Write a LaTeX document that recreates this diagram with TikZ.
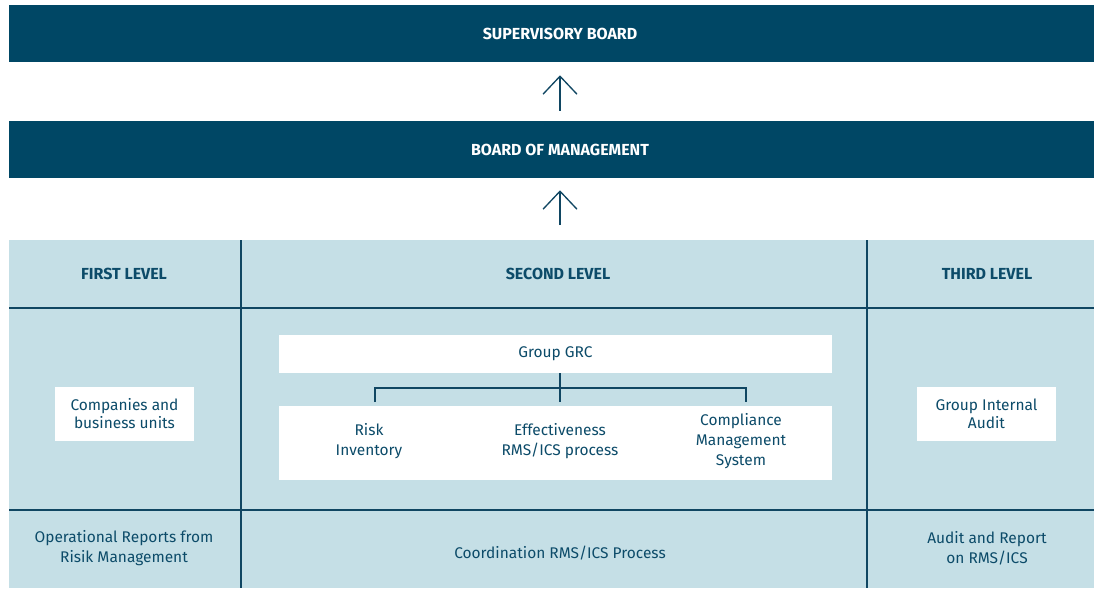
\documentclass[tikz,border=0pt]{standalone}
\usepackage{fontspec}
\setmainfont{Fira Sans}
\usepackage{xcolor}
\usetikzlibrary{positioning,
                arrows.meta,
                calc}

\begin{document}
\begin{tikzpicture}
[x=0.75pt,y=-0.75pt,line cap=butt,
board/.style={text=white,font=\bfseries\fontsize{12}{14}\selectfont,inner sep=0pt,minimum height=42.75pt},
level/.style={text=textblue,font=\bfseries\fontsize{12}{14}\selectfont},
box/.style={fill=white,text=textblue,align=center,inner sep=0pt,font=\fontsize{11.6}{13.5}\selectfont},
cell/.style={text=textblue,align=center,font=\fontsize{11.6}{15}\selectfont},
rule/.style={draw=lineblue,line width=1.1pt},
link/.style={draw=lineblue,line width=1pt},
up arrow/.style={draw=lineblue,line width=1pt,-{Straight Barb[length=13.5pt,width=25.5pt]}}]
% Colors
\definecolor{boardblue}{RGB}{0,71,101}
\definecolor{cellblue}{RGB}{197,223,230}
\definecolor{textblue}{RGB}{12,75,105}
\definecolor{lineblue}{RGB}{16,70,98}
\useasboundingbox (0,0) rectangle (1094,588);
% The boards
\fill[boardblue] (9,5) rectangle (1094,62);
\node[board] (sup) at (560,33.5) {SUPERVISORY BOARD};
\fill[boardblue] (9,121) rectangle (1094,178);
\node[board] (bom) at (560,149.5) {BOARD OF MANAGEMENT};
% The table
\fill[cellblue] (9,240) rectangle (1094,588);
\coordinate (tbltop) at (560,240);
\draw[rule] (241,240) -- (241,588);
\draw[rule] (867,240) -- (867,588);
\draw[rule] (9,308) -- (1094,308);
\draw[rule] (9,510) -- (1094,510);
\node[level] (first) at (124,274) {FIRST LEVEL};
\node[level] (second) at (558,274) {SECOND LEVEL};
\node[level] (third) at (987,274) {THIRD LEVEL};
% Reporting lines
\draw[up arrow,shorten <=7.5pt,shorten >=9.75pt] (bom.north) -- (sup.south);
\draw[up arrow,shorten <=11.25pt,shorten >=9pt] (tbltop) -- (bom.south);
% Middle row
\node[box,minimum width=104.25pt,minimum height=40.5pt] (units) at (124.5,414) {Companies and\\business units};
\node[box,minimum width=104.25pt,minimum height=40.5pt] (audit) at (986.5,414) {Group Internal\\Audit};
\node[box,minimum width=414.75pt,minimum height=28.5pt] (grc) at (555.5,354) {Group GRC};
\node[box,minimum width=414.75pt,minimum height=55.5pt] (band) at (555.5,443) {};
\node[cell] (risk) at (369,441) {Risk\\Inventory};
\node[cell] (eff) at (560,441) {Effectiveness\\RMS/ICS process};
\node[cell] (cms) at (741,441) {Compliance\\Management\\System};
\coordinate (fork) at (560,388);
\coordinate (riskend) at (375,402);
\coordinate (effend) at (560,402);
\coordinate (cmsend) at (746,402);
\draw[link] (riskend) |- (fork) -| (cmsend);
\draw[link] (grc.south -| fork) -- (effend);
% Bottom row
\node[cell] (oprep) at (124,548) {Operational Reports from\\Risik Management};
\node[cell] (coord) at (560,553) {Coordination RMS/ICS Process};
\node[cell] (arep) at (987,548) {Audit and Report\\on RMS/ICS};
\end{tikzpicture}
\end{document}
